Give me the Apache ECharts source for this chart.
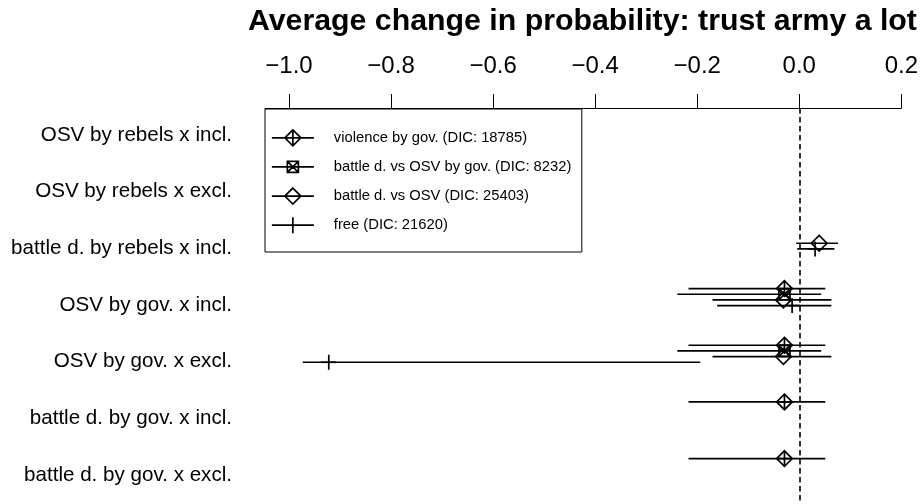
<!DOCTYPE html>
<html>
<head>
<meta charset="utf-8">
<script src="https://cdn.jsdelivr.net/npm/echarts@6/dist/echarts.min.js"></script>
<style>html,body{margin:0;padding:0;background:#fff;}#c{width:921px;height:504px;}</style>
</head>
<body>
<div id="c"></div>
<script>
// ---- data ----
const categories = [
  'OSV by rebels x incl.',
  'OSV by rebels x excl.',
  'battle d. by rebels x incl.',
  'OSV by gov. x incl.',
  'OSV by gov. x excl.',
  'battle d. by gov. x incl.',
  'battle d. by gov. x excl.'
];
const xTicks = [-1.0, -0.8, -0.6, -0.4, -0.2, 0.0, 0.2];
const seriesNames = [
  'violence by gov. (DIC: 18785)',
  'battle d. vs OSV by gov. (DIC: 8232)',
  'battle d. vs OSV (DIC: 25403)',
  'free (DIC: 21620)'
];
// estimates and interval bounds per category (null = not estimated)
const govEst = [null, null, null, -0.029, -0.029, -0.029, -0.029];
const govLo  = [null, null, null, -0.217, -0.217, -0.217, -0.217];
const govHi  = [null, null, null,  0.051,  0.051,  0.051,  0.051];

const bvoGovEst = [null, null, null, -0.029, -0.029, null, null];
const bvoGovLo  = [null, null, null, -0.239, -0.239, null, null];
const bvoGovHi  = [null, null, null,  0.043,  0.043, null, null];

const bvoEst = [null, null,  0.039, -0.031, -0.031, null, null];
const bvoLo  = [null, null, -0.006, -0.170, -0.170, null, null];
const bvoHi  = [null, null,  0.076,  0.063,  0.063, null, null];

const freeEst = [null, null,  0.031, -0.014, -0.922, null, null];
const freeLo  = [null, null, -0.004, -0.161, -0.973, null, null];
const freeHi  = [null, null,  0.069,  0.063, -0.194, null, null];

// ---- chart ----
const FONT = 'Liberation Sans';
const LW = 1.7;
const seriesData = [
  [govEst, govLo, govHi],
  [bvoGovEst, bvoGovLo, bvoGovHi],
  [bvoEst, bvoLo, bvoHi],
  [freeEst, freeLo, freeHi]
];
const rowShift = [-0.29, -0.19, -0.09, 0.01];
const kinds = ['diamondplus', 'boxx', 'diamond', 'plus'];

function markerShapes(kind, cx, cy) {
  const st = {stroke: '#000', fill: 'none', lineWidth: LW};
  const d = 7.8, s = 5.5, p = 7.5;
  const out = [];
  if (kind === 'diamondplus' || kind === 'diamond') {
    out.push({type: 'polygon', shape: {points: [[cx, cy - d], [cx + d, cy], [cx, cy + d], [cx - d, cy]]}, style: st});
    if (kind === 'diamondplus') {
      out.push({type: 'line', shape: {x1: cx, y1: cy - d, x2: cx, y2: cy + d}, style: st});
      out.push({type: 'line', shape: {x1: cx - d, y1: cy, x2: cx + d, y2: cy}, style: st});
    }
  } else if (kind === 'boxx') {
    out.push({type: 'rect', shape: {x: cx - s, y: cy - s, width: 2 * s, height: 2 * s}, style: st});
    out.push({type: 'line', shape: {x1: cx - s, y1: cy - s, x2: cx + s, y2: cy + s}, style: st});
    out.push({type: 'line', shape: {x1: cx + s, y1: cy - s, x2: cx - s, y2: cy + s}, style: st});
  } else {
    out.push({type: 'line', shape: {x1: cx, y1: cy - p, x2: cx, y2: cy + p}, style: st});
    out.push({type: 'line', shape: {x1: cx - p, y1: cy, x2: cx + p, y2: cy}, style: st});
  }
  return out;
}

const series = seriesNames.map((name, k) => {
  const [est, lo, hi] = seriesData[k];
  const data = [];
  est.forEach((v, i) => { if (v !== null) data.push([i + rowShift[k], v, lo[i], hi[i]]); });
  const s = {
    name: name,
    type: 'custom',
    coordinateSystem: 'cartesian2d',
    encode: {x: [1, 2, 3], y: 0},
    itemStyle: {color: '#000'},
    renderItem: function (params, api) {
      const y = api.value(0);
      const a = api.coord([api.value(2), y]);
      const b = api.coord([api.value(3), y]);
      const c = api.coord([api.value(1), y]);
      const children = [{type: 'line', shape: {x1: a[0], y1: a[1], x2: b[0], y2: b[1]}, style: {stroke: '#000', lineWidth: LW}}]
        .concat(markerShapes(kinds[k], c[0], c[1]));
      return {type: 'group', children: children};
    },
    data: data
  };
  if (k === 0) {
    s.markLine = {
      silent: true, symbol: 'none', animation: false,
      label: {show: false},
      lineStyle: {color: '#000', type: [5.5, 3.5], width: 1.6},
      data: [{xAxis: 0}]
    };
  }
  return s;
});

const icons = [
  'path://M0,8L42,8M21,0L29,8L21,16L13,8ZM21,0L21,16',
  'path://M21,0M21,16M0,8L42,8M15.5,2.5L26.5,2.5L26.5,13.5L15.5,13.5ZM15.5,2.5L26.5,13.5M26.5,2.5L15.5,13.5',
  'path://M0,8L42,8M21,0L29,8L21,16L13,8Z',
  'path://M0,8L42,8M21,0L21,16'
];

const chart = echarts.init(document.getElementById('c'), null, {renderer: 'canvas'});
chart.setOption({
  backgroundColor: '#fff',
  animation: false,
  title: {
    text: 'Average change in probability: trust army a lot',
    left: 248, top: 7, padding: 0,
    textStyle: {fontFamily: FONT, fontSize: 30.3, fontWeight: 'bold', color: '#000'}
  },
  legend: {
    orient: 'vertical',
    left: 265, top: 109,
    padding: [20, 10.5, 18, 6],
    itemWidth: 42, itemHeight: 16, itemGap: 11.4,
    borderColor: '#000', borderWidth: 1,
    backgroundColor: '#fff',
    selectedMode: false,
    itemStyle: {color: 'rgba(0,0,0,0)', borderColor: '#000', borderWidth: LW},
    formatter: function (n) { return '{t|' + n + '}'; },
    textStyle: {
      fontFamily: FONT, fontSize: 14.75, color: '#000',
      rich: {t: {fontFamily: FONT, fontSize: 14.75, color: '#000', padding: [0, 0, 0, 15]}}
    },
    data: seriesNames.map((n, k) => ({name: n, icon: icons[k]}))
  },
  grid: {left: 265, right: 19, top: 108, bottom: 0, containLabel: false},
  xAxis: {
    type: 'value', position: 'top',
    min: -1.04699, max: 0.2,
    axisLine: {show: true, onZero: false, lineStyle: {color: '#000', width: 1}},
    axisTick: {show: true, inside: false, length: 14, lineStyle: {color: '#000', width: 1}, customValues: xTicks},
    axisLabel: {
      show: true, margin: 30, customValues: xTicks,
      fontFamily: FONT, fontSize: 24, color: '#000',
      formatter: function (v) { return (v < 0 ? '\u2212' : '') + Math.abs(v).toFixed(1); }
    },
    splitLine: {show: false}
  },
  yAxis: {
    type: 'value', inverse: true,
    min: -0.4764, max: 6.5114,
    axisLine: {show: false}, axisTick: {show: false}, splitLine: {show: false},
    axisLabel: {
      show: true, margin: 33, customValues: categories.map((c, i) => i),
      fontFamily: FONT, fontSize: 20.6, color: '#000',
      formatter: function (v) { return categories[Math.round(v)]; }
    }
  },
  series: series
});
</script>
</body>
</html>
